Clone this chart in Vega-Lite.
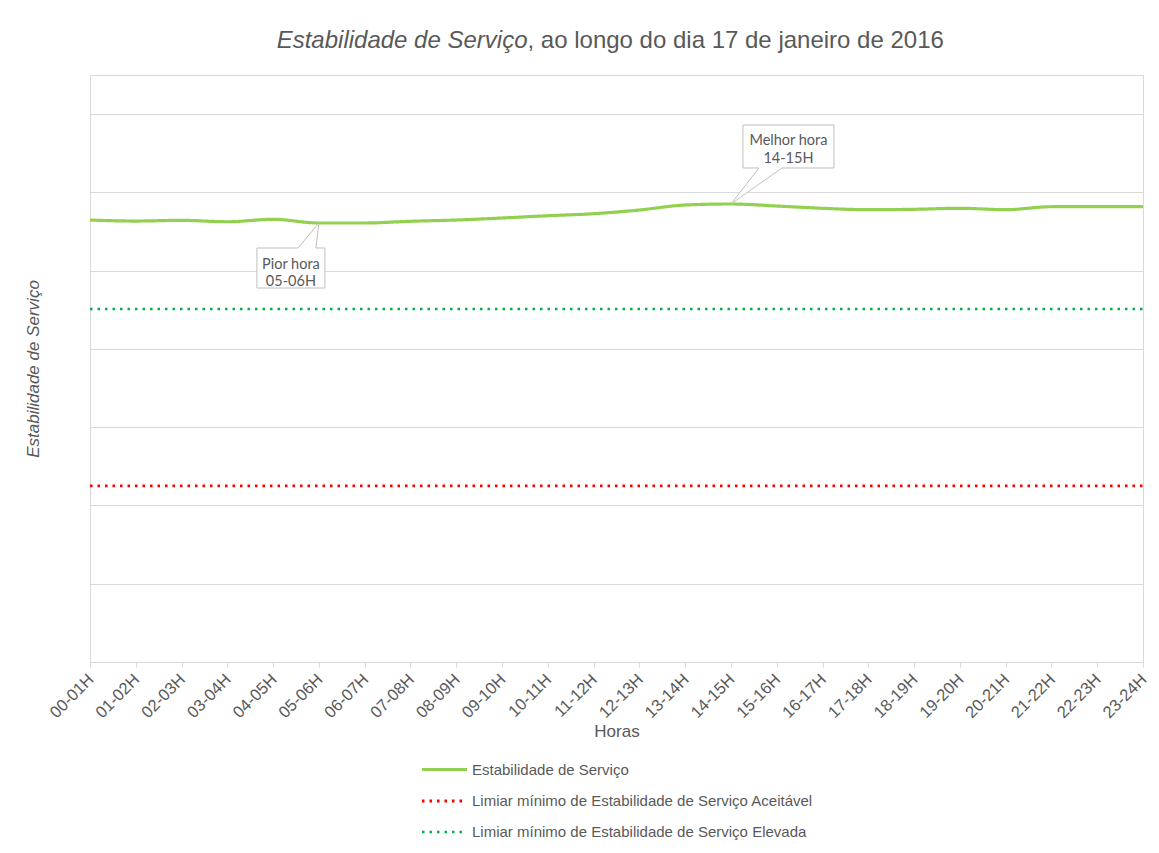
{
  "$schema": "https://vega.github.io/schema/vega-lite/v6.json",
  "width": 1053,
  "height": 587,
  "autosize": {"type": "none"},
  "padding": {"left": 90, "top": 75, "right": 16, "bottom": 191},
  "background": "white",
  "config": {
    "view": {"stroke": "#d9d9d9", "strokeWidth": 1},
    "font": "Liberation Sans"
  },
  "title": {
    "text": "Estabilidade de Serviço",
    "subtitle": ", ao longo do dia 17 de janeiro de 2016",
    "anchor": "middle",
    "frame": "group",
    "align": "left",
    "dx": -89,
    "offset": 22,
    "font": "Liberation Sans",
    "fontSize": 24,
    "fontStyle": "italic",
    "fontWeight": "normal",
    "color": "#595959",
    "subtitleFont": "Liberation Sans",
    "subtitleFontSize": 24,
    "subtitleFontStyle": "normal",
    "subtitleFontWeight": "normal",
    "subtitleColor": "#595959",
    "subtitlePadding": -24,
    "encoding": {"align": {"value": "right"}}
  },
  "datasets": {
    "series": [
      {"hora": "00-01H", "valor": 5.647, "serie": "Estabilidade de Serviço"},
      {"hora": "01-02H", "valor": 5.634, "serie": "Estabilidade de Serviço"},
      {"hora": "02-03H", "valor": 5.643, "serie": "Estabilidade de Serviço"},
      {"hora": "03-04H", "valor": 5.625, "serie": "Estabilidade de Serviço"},
      {"hora": "04-05H", "valor": 5.656, "serie": "Estabilidade de Serviço"},
      {"hora": "05-06H", "valor": 5.609, "serie": "Estabilidade de Serviço"},
      {"hora": "06-07H", "valor": 5.609, "serie": "Estabilidade de Serviço"},
      {"hora": "07-08H", "valor": 5.631, "serie": "Estabilidade de Serviço"},
      {"hora": "08-09H", "valor": 5.647, "serie": "Estabilidade de Serviço"},
      {"hora": "09-10H", "valor": 5.673, "serie": "Estabilidade de Serviço"},
      {"hora": "10-11H", "valor": 5.702, "serie": "Estabilidade de Serviço"},
      {"hora": "11-12H", "valor": 5.728, "serie": "Estabilidade de Serviço"},
      {"hora": "12-13H", "valor": 5.775, "serie": "Estabilidade de Serviço"},
      {"hora": "13-14H", "valor": 5.839, "serie": "Estabilidade de Serviço"},
      {"hora": "14-15H", "valor": 5.852, "serie": "Estabilidade de Serviço"},
      {"hora": "15-16H", "valor": 5.826, "serie": "Estabilidade de Serviço"},
      {"hora": "16-17H", "valor": 5.797, "serie": "Estabilidade de Serviço"},
      {"hora": "17-18H", "valor": 5.779, "serie": "Estabilidade de Serviço"},
      {"hora": "18-19H", "valor": 5.784, "serie": "Estabilidade de Serviço"},
      {"hora": "19-20H", "valor": 5.797, "serie": "Estabilidade de Serviço"},
      {"hora": "20-21H", "valor": 5.779, "serie": "Estabilidade de Serviço"},
      {"hora": "21-22H", "valor": 5.817, "serie": "Estabilidade de Serviço"},
      {"hora": "22-23H", "valor": 5.817, "serie": "Estabilidade de Serviço"},
      {"hora": "23-24H", "valor": 5.817, "serie": "Estabilidade de Serviço"},
      {"hora": "00-01H", "valor": 2.25, "serie": "Limiar mínimo de Estabilidade de Serviço Aceitável"},
      {"hora": "23-24H", "valor": 2.25, "serie": "Limiar mínimo de Estabilidade de Serviço Aceitável"},
      {"hora": "00-01H", "valor": 4.51, "serie": "Limiar mínimo de Estabilidade de Serviço Elevada"},
      {"hora": "23-24H", "valor": 4.51, "serie": "Limiar mínimo de Estabilidade de Serviço Elevada"}
    ],
    "pior": [{"hora": "05-06H", "valor": 5.609, "rotulo": "Pior hora\n05-06H"}],
    "melhor": [{"hora": "14-15H", "valor": 5.852, "rotulo": "Melhor hora\n14-15H"}]
  },
  "layer": [
    {
      "data": {"name": "series"},
      "mark": {"type": "line", "interpolate": "monotone", "strokeCap": "butt"},
      "encoding": {
        "x": {
          "field": "hora",
          "type": "ordinal",
          "sort": null,
          "scale": {"type": "point", "padding": 0},
          "axis": {
            "title": "Horas",
            "titleFont": "Liberation Sans",
            "titleFontSize": 17,
            "titleFontWeight": "normal",
            "titleColor": "#595959",
            "titlePadding": 3,
            "labelAngle": -45,
            "labelFont": "Liberation Sans",
            "labelFontSize": 16.5,
            "labelColor": "#595959",
            "labelPadding": 4,
            "labelOffset": -5,
            "domainColor": "#d9d9d9",
            "tickColor": "#d9d9d9",
            "tickSize": 5,
            "grid": false
          }
        },
        "y": {
          "field": "valor",
          "type": "quantitative",
          "scale": {"domain": [0, 7.5], "nice": false, "zero": false},
          "axis": {
            "title": "Estabilidade de Serviço",
            "titleFont": "Liberation Sans",
            "titleFontSize": 17,
            "titleFontWeight": "normal",
            "titleFontStyle": "italic",
            "titleColor": "#595959",
            "titlePadding": 48,
            "values": [0, 1, 2, 3, 4, 5, 6, 7],
            "labels": false,
            "ticks": false,
            "domain": false,
            "grid": true,
            "gridColor": "#d9d9d9",
            "gridWidth": 1
          }
        },
        "color": {
          "field": "serie",
          "type": "nominal",
          "scale": {
            "domain": ["Estabilidade de Serviço", "Limiar mínimo de Estabilidade de Serviço Aceitável", "Limiar mínimo de Estabilidade de Serviço Elevada"],
            "range": ["#92D050", "#FF0000", "#00B050"]
          },
          "legend": {
            "title": null,
            "orient": "none",
            "legendX": 345,
            "legendY": 685,
            "direction": "vertical",
            "padding": 0,
            "symbolType": "M-3,0H3",
            "symbolSize": 225,
            "symbolStrokeWidth": 3,
            "labelOffset": 18,
            "labelFont": "Liberation Sans",
            "labelFontSize": 15,
            "labelColor": "#595959",
            "rowPadding": 14,
            "labelLimit": 600
          }
        },
        "strokeDash": {
          "field": "serie",
          "type": "nominal",
          "scale": {
            "domain": ["Estabilidade de Serviço", "Limiar mínimo de Estabilidade de Serviço Aceitável", "Limiar mínimo de Estabilidade de Serviço Elevada"],
            "range": [[1, 0], [2.5, 5], [2.5, 5]]
          },
          "legend": {
            "title": null,
            "orient": "none",
            "legendX": 345,
            "legendY": 685,
            "direction": "vertical",
            "padding": 0,
            "symbolType": "M-3,0H3",
            "symbolSize": 225,
            "symbolStrokeWidth": 3,
            "labelOffset": 18,
            "labelFont": "Liberation Sans",
            "labelFontSize": 15,
            "labelColor": "#595959",
            "rowPadding": 14,
            "labelLimit": 600
          }
        },
        "strokeWidth": {
          "field": "serie",
          "type": "nominal",
          "scale": {
            "domain": ["Estabilidade de Serviço", "Limiar mínimo de Estabilidade de Serviço Aceitável", "Limiar mínimo de Estabilidade de Serviço Elevada"],
            "range": [3.2, 2.6, 2.6]
          },
          "legend": null
        }
      }
    },
    {
      "data": {"name": "pior"},
      "mark": {"type": "point", "shape": "M-62,25L-21,25L0,0L-3,25L6,25L6,65L-62,65Z", "size": 4, "filled": true, "fill": "white", "stroke": "#bfbfbf", "strokeWidth": 1, "opacity": 1},
      "encoding": {
        "x": {"field": "hora", "type": "ordinal", "sort": null},
        "y": {"field": "valor", "type": "quantitative"}
      }
    },
    {
      "data": {"name": "pior"},
      "mark": {"type": "text", "font": "Lato", "fontSize": 14.5, "color": "#595959", "align": "center", "baseline": "middle", "lineBreak": "\n", "lineHeight": 17, "dx": -28, "dy": 42},
      "encoding": {
        "x": {"field": "hora", "type": "ordinal", "sort": null},
        "y": {"field": "valor", "type": "quantitative"},
        "text": {"field": "rotulo"}
      }
    },
    {
      "data": {"name": "melhor"},
      "mark": {"type": "point", "shape": "M12,-79L103,-79L103,-36L51,-36L0,0L28,-36L12,-36Z", "size": 4, "filled": true, "fill": "white", "stroke": "#bfbfbf", "strokeWidth": 1, "opacity": 1},
      "encoding": {
        "x": {"field": "hora", "type": "ordinal", "sort": null},
        "y": {"field": "valor", "type": "quantitative"}
      }
    },
    {
      "data": {"name": "melhor"},
      "mark": {"type": "text", "font": "Lato", "fontSize": 14.5, "color": "#595959", "align": "center", "baseline": "middle", "lineBreak": "\n", "lineHeight": 18, "dx": 57.5, "dy": -63},
      "encoding": {
        "x": {"field": "hora", "type": "ordinal", "sort": null},
        "y": {"field": "valor", "type": "quantitative"},
        "text": {"field": "rotulo"}
      }
    }
  ]
}
